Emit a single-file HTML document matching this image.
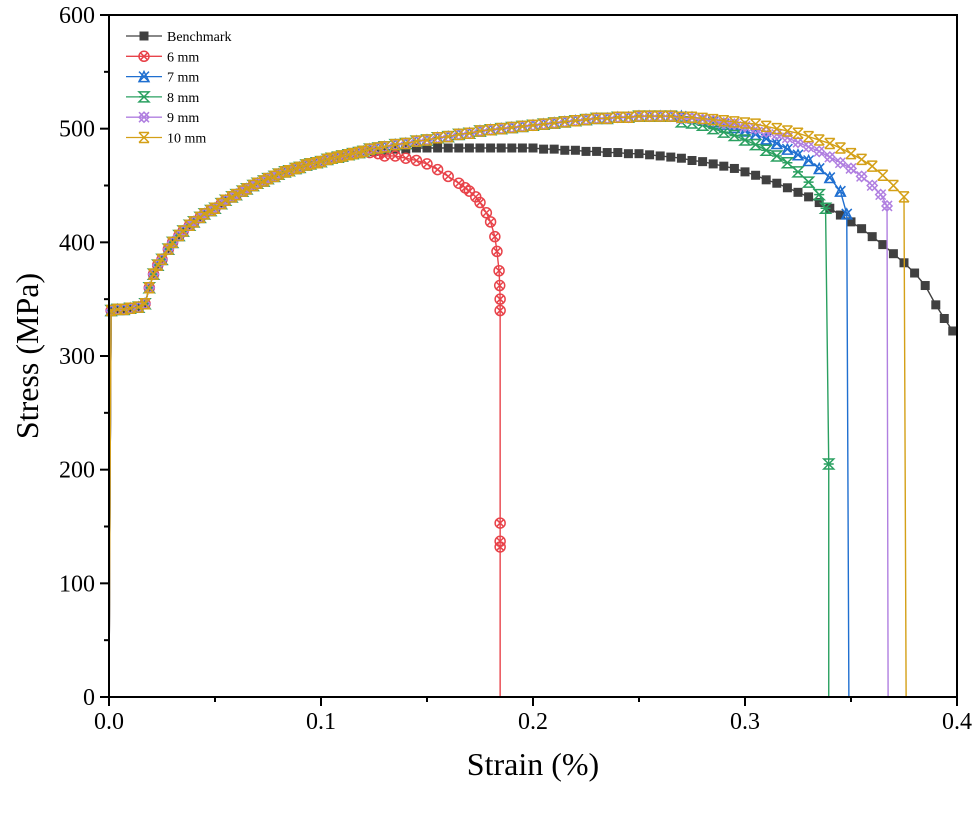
<!DOCTYPE html>
<html><head><meta charset="utf-8"><style>
body{margin:0;background:#fff}
svg text{font-family:"Liberation Serif",serif}
</style></head><body>
<svg id="chart" width="975" height="809" viewBox="0 0 975 809" xmlns="http://www.w3.org/2000/svg">
<g id="marks"></g>
<g id="axes"></g>
<g id="legend"></g>
</svg>
<script>
const xTicks=[0,0.1,0.2,0.3,0.4];
const xTickLabels=["0.0","0.1","0.2","0.3","0.4"];
const yTicks=[0,100,200,300,400,500,600];
const yTickLabels=["0","100","200","300","400","500","600"];
const seriesNames=["Benchmark","6 mm","7 mm","8 mm","9 mm","10 mm"];
const seriesColors=["#404040","#e8434a","#1f6fd0","#2aa060","#b07fe0","#d4a017"];
const early=[[0,0],[0.0005,190],[0.001,340],[0.004,341],[0.007,341],[0.01,342],[0.014,343],[0.017,346],[0.019,360],[0.021,372],[0.023,380],[0.025,385],[0.028,394],[0.03,400],[0.033,406],[0.035,410],[0.038,415],[0.04,418],[0.043,422],[0.045,425],[0.048,428],[0.05,430],[0.053,434],[0.055,437],[0.058,440],[0.06,442],[0.063,445],[0.065,447],[0.068,450],[0.07,452],[0.073,454],[0.075,456],[0.078,458],[0.08,460],[0.083,462],[0.085,463],[0.088,465],[0.09,466],[0.093,468],[0.095,469],[0.098,470],[0.1,471],[0.103,473],[0.105,474],[0.108,475],[0.11,476],[0.113,477],[0.115,478],[0.118,479],[0.12,480]];
const benchTail=[[0.125,480],[0.13,481],[0.135,482],[0.14,482],[0.145,483],[0.15,483],[0.155,483],[0.16,483],[0.165,483],[0.17,483],[0.175,483],[0.18,483],[0.185,483],[0.19,483],[0.195,483],[0.2,483],[0.205,482],[0.21,482],[0.215,481],[0.22,481],[0.225,480],[0.23,480],[0.235,479],[0.24,479],[0.245,478],[0.25,478],[0.255,477],[0.26,476],[0.265,475],[0.27,474],[0.275,472],[0.28,471],[0.285,469],[0.29,467],[0.295,465],[0.3,462],[0.305,459],[0.31,455],[0.315,452],[0.32,448],[0.325,444],[0.33,440],[0.335,435],[0.34,430],[0.345,424],[0.35,418],[0.355,412],[0.36,405],[0.365,398],[0.37,390],[0.375,382],[0.38,373],[0.385,362],[0.39,345],[0.394,333],[0.398,322]];
const commonMid=[[0.123,482],[0.127,483],[0.13,484],[0.135,486],[0.14,487],[0.145,489],[0.15,490],[0.155,492],[0.16,493],[0.165,495],[0.17,496],[0.175,498],[0.18,499],[0.185,500],[0.19,501],[0.195,502],[0.2,503],[0.205,504],[0.21,505],[0.215,506],[0.22,507],[0.225,508],[0.23,509],[0.235,509],[0.24,510],[0.245,510],[0.25,511],[0.255,511],[0.26,511],[0.265,511]];
const tail6=[[0.123,479],[0.127,478],[0.13,476],[0.135,476],[0.14,474],[0.145,472],[0.15,469],[0.155,464],[0.16,458],[0.165,452],[0.168,448],[0.17,445],[0.173,440],[0.175,435],[0.178,426],[0.18,418],[0.182,405],[0.183,392],[0.184,375],[0.1843,362],[0.1845,350],[0.1845,340],[0.1845,153],[0.1845,137],[0.1845,132],[0.1845,0]];
const tail7=[[0.27,511],[0.275,510],[0.28,508],[0.285,506],[0.29,504],[0.295,501],[0.3,498],[0.305,495],[0.31,491],[0.315,487],[0.32,482],[0.325,477],[0.33,472],[0.335,465],[0.34,457],[0.345,445],[0.348,425],[0.349,0]];
const tail8=[[0.27,506],[0.275,505],[0.28,503],[0.285,500],[0.29,497],[0.295,494],[0.3,490],[0.305,486],[0.31,481],[0.315,476],[0.32,470],[0.325,462],[0.33,453],[0.335,442],[0.338,430],[0.3395,205],[0.3395,0]];
const tail9=[[0.27,509],[0.275,509],[0.28,508],[0.285,507],[0.29,505],[0.295,504],[0.3,502],[0.305,500],[0.31,497],[0.315,495],[0.32,492],[0.325,488],[0.33,484],[0.335,480],[0.34,475],[0.345,470],[0.35,465],[0.355,458],[0.36,450],[0.364,442],[0.367,432],[0.3675,0]];
const tail10=[[0.27,510],[0.275,510],[0.28,509],[0.285,508],[0.29,507],[0.295,506],[0.3,505],[0.305,504],[0.31,502],[0.315,500],[0.32,498],[0.325,496],[0.33,493],[0.335,490],[0.34,487],[0.345,483],[0.35,478],[0.355,473],[0.36,467],[0.365,459],[0.37,450],[0.375,440],[0.376,0]];
const seriesData=[early.concat(benchTail),early.concat(tail6),early.concat(commonMid,tail7),early.concat(commonMid,tail8),early.concat(commonMid,tail9),early.concat(commonMid,tail10)];

const X0=109,X1=957,Y0=697,Y1=15;
const xs=v=>X0+(v-0)/(0.4-0)*(X1-X0);
const ys=v=>Y0-(v-0)/(600-0)*(Y0-Y1);
const NS="http://www.w3.org/2000/svg";
function mk(tag,attrs,parent){const e=document.createElementNS(NS,tag);for(const k in attrs)e.setAttribute(k,attrs[k]);parent.appendChild(e);return e;}
function marker(type,x,y,c,parent){
  const g=mk("g",{},parent);
  const r=5;
  const sw=1.5;
  if(type===0){mk("rect",{x:x-4.5,y:y-4.5,width:9,height:9,fill:c},g);}
  else if(type===1){mk("circle",{cx:x,cy:y,r:r,fill:"none",stroke:c,"stroke-width":sw},g);mk("path",{d:`M${x-3.5} ${y-3.5}L${x+3.5} ${y+3.5}M${x+3.5} ${y-3.5}L${x-3.5} ${y+3.5}`,stroke:c,"stroke-width":sw},g);}
  else if(type===2){mk("path",{d:`M${x} ${y-r}L${x+r} ${y+r}L${x-r} ${y+r}Z M${x-r} ${y-r}L${x+r} ${y+r}M${x+r} ${y-r}L${x-r} ${y+r}`,fill:"none",stroke:c,"stroke-width":sw},g);}
  else if(type===3){mk("path",{d:`M${x-r} ${y-r}L${x+r} ${y-r}L${x-r} ${y+r}L${x+r} ${y+r}Z M${x-r} ${y}L${x+r} ${y}`,fill:"none",stroke:c,"stroke-width":sw},g);}
  else if(type===4){mk("path",{d:`M${x} ${y-r}L${x+r} ${y}L${x} ${y+r}L${x-r} ${y}Z M${x-r} ${y-r}L${x+r} ${y+r}M${x+r} ${y-r}L${x-r} ${y+r}`,fill:"none",stroke:c,"stroke-width":sw},g);}
  else {mk("path",{d:`M${x-r} ${y-r}L${x+r} ${y+r}M${x+r} ${y-r}L${x-r} ${y+r}M${x-r} ${y-r}L${x+r} ${y-r}M${x-r} ${y+r}L${x+r} ${y+r}`,fill:"none",stroke:c,"stroke-width":sw},g);}
  return g;
}
const marks=document.getElementById("marks");
seriesData.forEach((pts,i)=>{
  const g=mk("g",{},marks);
  
  
  const p=mk("polyline",{points:pts.map(d=>xs(d[0])+","+ys(d[1])).join(" "),fill:"none",stroke:seriesColors[i],"stroke-width":1.4},g);
  
  
  pts.forEach((d,j)=>{ if(d[1]>0 && d[1]!==190){const m=marker(i,xs(d[0]),ys(d[1]),seriesColors[i],g);
    
    }});
});
const ax=document.getElementById("axes");
const frame=mk("rect",{x:X0,y:Y1,width:X1-X0,height:Y0-Y1,fill:"none",stroke:"#000","stroke-width":2},ax);


xTicks.forEach((v,i)=>{
  mk("line",{x1:xs(v),x2:xs(v),y1:Y0,y2:Y0+9,stroke:"#000","stroke-width":2},ax);
  if(i<xTicks.length-1) mk("line",{x1:xs(v+0.05),x2:xs(v+0.05),y1:Y0,y2:Y0+5,stroke:"#000","stroke-width":2},ax);
  const t=mk("text",{x:xs(v),y:Y0+32,"text-anchor":"middle","font-size":24},ax);t.textContent=xTickLabels[i];
  
  
});
yTicks.forEach((v,i)=>{
  mk("line",{x1:X0-9,x2:X0,y1:ys(v),y2:ys(v),stroke:"#000","stroke-width":2},ax);
  if(i<yTicks.length-1) mk("line",{x1:X0-5,x2:X0,y1:ys(v+50),y2:ys(v+50),stroke:"#000","stroke-width":2},ax);
  const t=mk("text",{x:X0-14,y:ys(v)+8,"text-anchor":"end","font-size":24},ax);t.textContent=yTickLabels[i];
  
  
});
const xt=mk("text",{x:533,y:775,"text-anchor":"middle","font-size":32},ax);xt.textContent="Strain (%)";


const yt=mk("text",{x:0,y:0,"text-anchor":"middle","font-size":32,transform:"translate(38,356) rotate(-90)"},ax);yt.textContent="Stress (MPa)";


const lg=document.getElementById("legend");
seriesNames.forEach((n,i)=>{
  const y=36+i*20.3;
  const g=mk("g",{},lg);
  
  
  mk("line",{x1:126,x2:162,y1:y,y2:y,stroke:seriesColors[i],"stroke-width":1.3},g);
  marker(i,144,y,seriesColors[i],g);
  const t=mk("text",{x:167,y:y+5,"font-size":14},g);t.textContent=n;
});
</script>
</body></html>
